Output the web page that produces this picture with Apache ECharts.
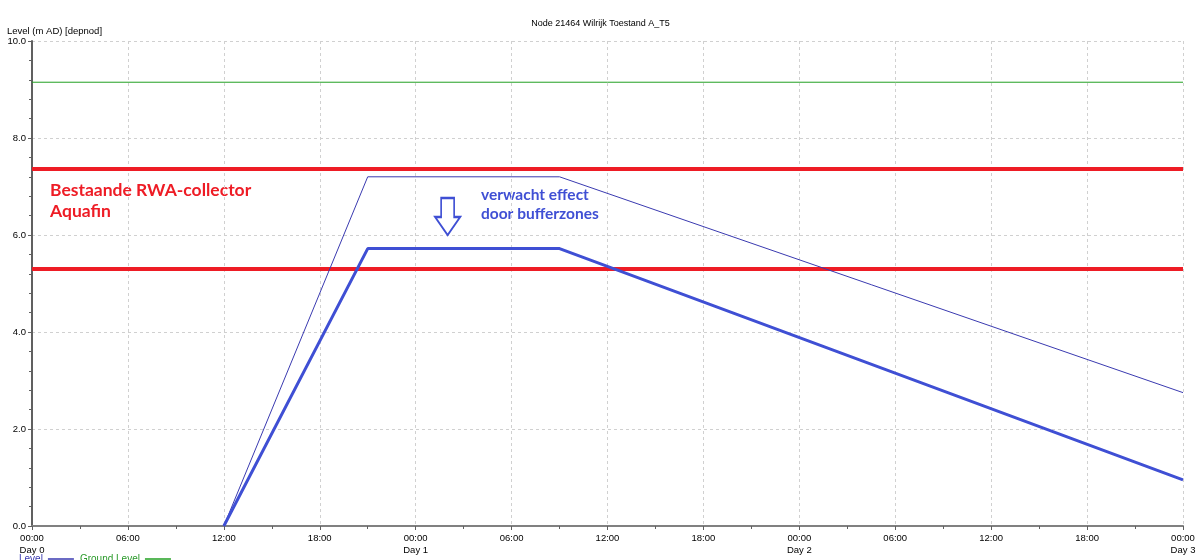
<!DOCTYPE html>
<html>
<head>
<meta charset="utf-8">
<script src="https://cdn.jsdelivr.net/npm/echarts@6/dist/echarts.min.js"></script>
<style>
  html, body { margin: 0; padding: 0; background: #fff; }
  #chart { width: 1201px; height: 560px; }
</style>
</head>
<body>
<div id="chart"></div>
<script>
// Time in hours from Day 0 00:00, level in m AD
const levelPoints = [[12, 0], [21, 7.2], [33, 7.2], [72, 2.75]];
const expectedPoints = [[12, 0], [21, 5.72], [33, 5.72], [72, 0.95]];
const groundLevel = 9.15;
const collectorTop = 7.36;
const collectorBottom = 5.30;
const xRange = [0, 72];
const dayLabels = ['Day 0', 'Day 1', 'Day 2', 'Day 3'];

const chart = echarts.init(document.getElementById('chart'));
const smallFont = '"Liberation Sans", sans-serif';
const axisFont = { fontFamily: smallFont, fontSize: 9.5, color: '#000' };

function flat(v) { return [[xRange[0], v], [xRange[1], v]]; }

function timeLabel(h) {
  const hh = String(h % 24).padStart(2, '0') + ':00';
  return h % 24 === 0 ? hh + '\n' + dayLabels[h / 24] : hh;
}

chart.setOption({
  animation: false,
  title: {
    text: 'Node 21464 Wilrijk Toestand A_T5',
    left: 'center', top: 14,
    textStyle: { fontFamily: smallFont, fontSize: 9, fontWeight: 'normal', color: '#000' }
  },
  legend: {
    left: 14, bottom: -9, itemWidth: 26, itemHeight: 1.5, itemGap: 6, align: 'right',
    icon: 'rect',
    data: [
      { name: 'Level', textStyle: { color: '#3a3ab0' } },
      { name: 'Ground Level', textStyle: { color: '#2a9a2a' } }
    ],
    textStyle: { fontFamily: smallFont, fontSize: 10 }
  },
  grid: { left: 32, right: 18, top: 41, bottom: 34, containLabel: false },
  xAxis: {
    type: 'value', min: xRange[0], max: xRange[1], interval: 6,
    axisLine: { lineStyle: { color: '#808080', width: 2 } },
    axisTick: { length: 4, lineStyle: { color: '#606060' } },
    minorTick: { show: true, splitNumber: 2, length: 3, lineStyle: { color: '#606060' } },
    splitLine: { show: true, lineStyle: { color: '#d0d0d0', type: [3, 3] } },
    axisLabel: Object.assign({ formatter: timeLabel, margin: 6, lineHeight: 12 }, axisFont)
  },
  yAxis: {
    type: 'value', min: 0, max: 10, interval: 2,
    name: 'Level (m AD) [depnod]',
    nameLocation: 'end', nameGap: 5,
    nameTextStyle: Object.assign({ align: 'left', padding: [0, 0, 0, -25] }, axisFont),
    axisLine: { show: true, lineStyle: { color: '#606060', width: 2 } },
    axisTick: { show: true, length: 4, lineStyle: { color: '#606060' } },
    minorTick: { show: true, splitNumber: 5, length: 3, lineStyle: { color: '#606060' } },
    splitLine: { show: true, lineStyle: { color: '#d0d0d0', type: [3, 3] } },
    axisLabel: Object.assign({ formatter: v => v.toFixed(1), margin: 6 }, axisFont)
  },
  series: [
    {
      name: 'Ground Level', type: 'line', data: flat(groundLevel),
      symbol: 'none', lineStyle: { color: '#22a022', width: 1 }, itemStyle: { color: '#22a022' }
    },
    {
      name: 'collector-top', type: 'line', data: flat(collectorTop),
      symbol: 'none', lineStyle: { color: '#ee1c25', width: 4 }
    },
    {
      name: 'collector-bottom', type: 'line', data: flat(collectorBottom),
      symbol: 'none', lineStyle: { color: '#ee1c25', width: 4 }
    },
    {
      name: 'Level', type: 'line', data: levelPoints,
      symbol: 'none', lineStyle: { color: '#3a3ab0', width: 1 }, itemStyle: { color: '#3a3ab0' }
    },
    {
      name: 'bufferzones', type: 'line', data: expectedPoints,
      symbol: 'none', lineStyle: { color: '#3f4fd4', width: 3 },
      markPoint: {
        silent: true,
        data: [{
          coord: [26, 6.38],
          symbol: 'path://M6,0 L19,0 L19,19 L25,19 L12.5,37 L0,19 L6,19 Z',
          symbolSize: [25, 37],
          itemStyle: { color: '#ffffff', borderColor: '#3f4fd4', borderWidth: 2 },
          label: { show: false }
        }]
      }
    }
  ],
  graphic: [
    {
      type: 'text', left: 50, top: 180,
      style: {
        text: 'Bestaande RWA-collector\nAquafin',
        font: 'bold 17.5px Lato', fill: '#ee1c25', lineHeight: 21
      }
    },
    {
      type: 'text', left: 481, top: 185,
      style: {
        text: 'verwacht effect\ndoor bufferzones',
        font: 'bold 15.5px Lato', fill: '#3f4fd4', lineHeight: 19
      }
    }
  ]
});
</script>
</body>
</html>
